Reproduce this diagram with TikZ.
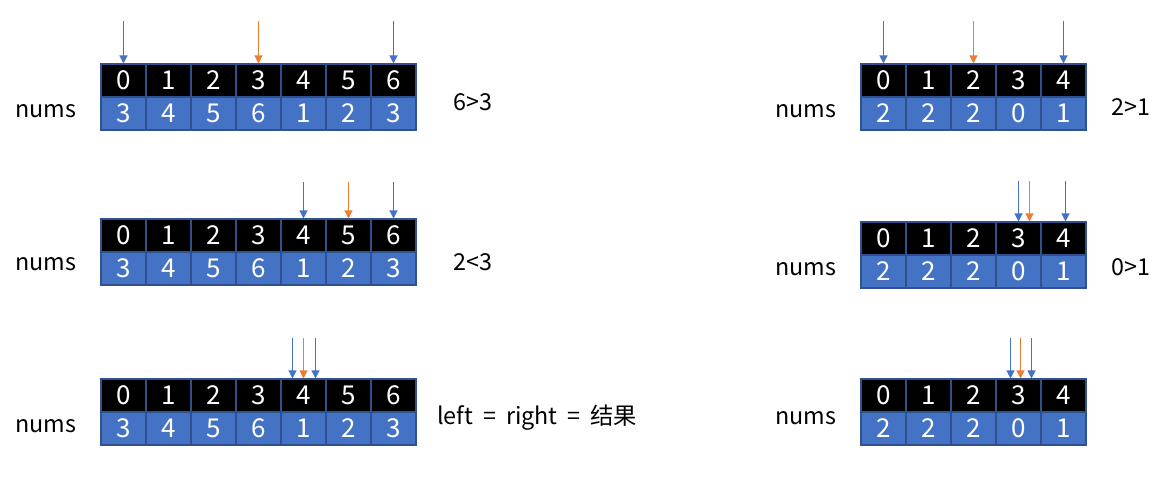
\documentclass[tikz,border=0pt]{standalone}
\usepackage{fontspec}
\setmainfont[WordSpace=1.9]{Noto Sans CJK SC}
\usetikzlibrary{arrows.meta}

\definecolor{cellblue}{HTML}{4472C4}
\definecolor{celledge}{HTML}{2F528F}
\definecolor{ptrorange}{HTML}{ED7D31}

\tikzset{
  cell/.style={draw=celledge, line width=0.8pt, minimum width=33.75pt, minimum height=24.75pt,
    inner sep=0pt, text=white, font=\fontsize{19.5}{21}\selectfont},
  idxcell/.style={cell, fill=black},
  valcell/.style={cell, fill=cellblue},
  lbl/.style={font=\fontsize{17.5}{20}\selectfont, inner sep=0pt},
  ptr/.style={line width=0.9pt, -{Triangle[width=6pt,length=6pt]}},
  bptr/.style={ptr, cellblue},
  optr/.style={ptr, ptrorange}
}

% one array: name, left x, top y, indices, values
\newcommand{\numsrow}[5]{%
  \foreach \v [count=\k from 0] in {#4}{
    \node[idxcell] (#1-i-\k) at (#2+45*\k+22.5, #3+16.5) {\v};
  }
  \foreach \v [count=\k from 0] in {#5}{
    \node[valcell] (#1-v-\k) at (#2+45*\k+22.5, #3+49.5) {\v};
  }
}

\begin{document}
\begin{tikzpicture}[x=0.75pt, y=-0.75pt]
\useasboundingbox (0,0) rectangle (1165,481);

% left side
\numsrow{a}{101}{64}{0,1,2,3,4,5,6}{3,4,5,6,1,2,3}
\numsrow{b}{101}{219}{0,1,2,3,4,5,6}{3,4,5,6,1,2,3}
\numsrow{c}{101}{379}{0,1,2,3,4,5,6}{3,4,5,6,1,2,3}

\node[lbl] (a-name) at (46,111) {nums};
\node[lbl] (b-name) at (46,264) {nums};
\node[lbl] (c-name) at (46,426) {nums};

\node[lbl] (a-cmp) at (473,102) {6>3};
\node[lbl] (b-cmp) at (473,262) {2<3};
\node[lbl, anchor=west] (c-cmp) at (437,418) {left = right = 结果};

\coordinate (a-l) at ([yshift=31.5pt]a-i-0.north);
\coordinate (a-m) at ([yshift=31.5pt]a-i-3.north);
\coordinate (a-r) at ([yshift=31.5pt]a-i-6.north);
\draw[bptr] (a-l) -- (a-i-0.north);
\draw[optr] (a-m) -- (a-i-3.north);
\draw[bptr] (a-r) -- (a-i-6.north);

\coordinate (b-l) at ([yshift=27pt]b-i-4.north);
\coordinate (b-m) at ([yshift=27pt]b-i-5.north);
\coordinate (b-r) at ([yshift=27pt]b-i-6.north);
\draw[bptr] (b-l) -- (b-i-4.north);
\draw[optr] (b-m) -- (b-i-5.north);
\draw[bptr] (b-r) -- (b-i-6.north);

\coordinate (c-l) at ([xshift=-8.25pt,yshift=30pt]c-i-4.north);
\coordinate (c-m) at ([yshift=30pt]c-i-4.north);
\coordinate (c-r) at ([xshift=9pt,yshift=30pt]c-i-4.north);
\draw[bptr] (c-l) -- ([xshift=-8.25pt]c-i-4.north);
\draw[optr] (c-m) -- (c-i-4.north);
\draw[bptr] (c-r) -- ([xshift=9pt]c-i-4.north);

% right side
\numsrow{d}{861}{64}{0,1,2,3,4}{2,2,2,0,1}
\numsrow{e}{861}{222}{0,1,2,3,4}{2,2,2,0,1}
\numsrow{f}{861}{379}{0,1,2,3,4}{2,2,2,0,1}

\node[lbl] (d-name) at (806,111) {nums};
\node[lbl] (e-name) at (806,269) {nums};
\node[lbl] (f-name) at (806,418) {nums};

\node[lbl] (d-cmp) at (1131,107) {2>1};
\node[lbl] (e-cmp) at (1131,267) {0>1};

\coordinate (d-l) at ([yshift=31.5pt]d-i-0.north);
\coordinate (d-m) at ([yshift=31.5pt]d-i-2.north);
\coordinate (d-r) at ([yshift=31.5pt]d-i-4.north);
\draw[bptr] (d-l) -- (d-i-0.north);
\draw[optr] (d-m) -- (d-i-2.north);
\draw[bptr] (d-r) -- (d-i-4.north);

\coordinate (e-l) at ([yshift=30pt]e-i-3.north);
\coordinate (e-m) at ([xshift=8.25pt,yshift=30pt]e-i-3.north);
\coordinate (e-r) at ([xshift=1.5pt,yshift=30pt]e-i-4.north);
\draw[bptr] (e-l) -- (e-i-3.north);
\draw[optr] (e-m) -- ([xshift=8.25pt]e-i-3.north);
\draw[bptr] (e-r) -- ([xshift=1.5pt]e-i-4.north);

\coordinate (f-l) at ([xshift=-6pt,yshift=30pt]f-i-3.north);
\coordinate (f-m) at ([xshift=1.5pt,yshift=30pt]f-i-3.north);
\coordinate (f-r) at ([xshift=9.75pt,yshift=30pt]f-i-3.north);
\draw[bptr] (f-l) -- ([xshift=-6pt]f-i-3.north);
\draw[optr] (f-m) -- ([xshift=1.5pt]f-i-3.north);
\draw[bptr] (f-r) -- ([xshift=9.75pt]f-i-3.north);

\end{tikzpicture}
\end{document}
